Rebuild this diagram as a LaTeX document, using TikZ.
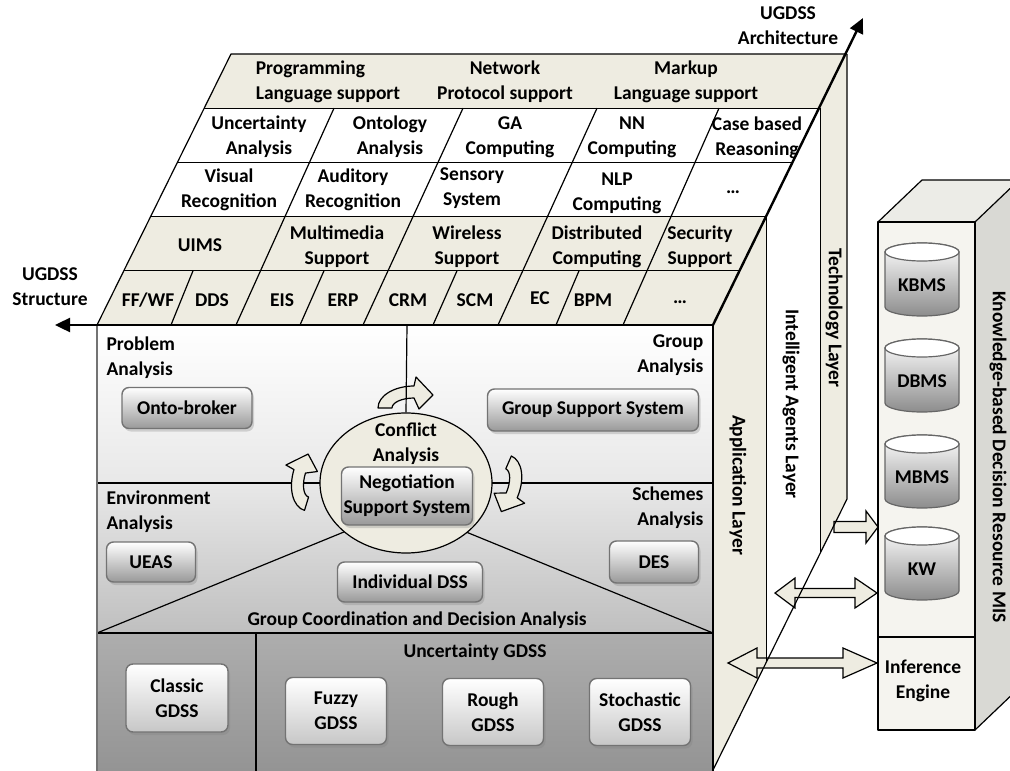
\documentclass[tikz,border=0pt]{standalone}
\usepackage{fontspec}
\setmainfont{Carlito}
\usetikzlibrary{shapes.geometric, arrows.meta, shadows}
\definecolor{tan}{HTML}{EEECE1}
\definecolor{kbfront}{HTML}{F5F4EF}
\definecolor{kbtop}{HTML}{ECECE7}
\definecolor{kbside}{HTML}{D9D9D4}
\newcommand{\labelfont}{\fontsize{19.5}{25}\selectfont\bfseries}
\tikzstyle{cell} = [inner sep=0, align=center, font=\labelfont]
\tikzstyle{tag} = [inner sep=0, font=\labelfont]
\tikzstyle{sysbox} = [rectangle, rounded corners=7pt, inner sep=0, align=center, font=\labelfont, draw=black!55, line width=1.4pt, top color=white, bottom color=black!40, drop shadow={shadow xshift=2pt, shadow yshift=-3pt, opacity=0.3}]
\tikzstyle{gdss} = [sysbox, bottom color=black!22, minimum width=101pt, minimum height=67pt]
\tikzstyle{axisarrow} = [line width=2.4pt, -{Triangle[length=15pt, width=14pt]}]
\tikzstyle{layertext} = [inner sep=0, font=\labelfont, rotate=-90]
\tikzstyle{blockarrow} = [fill=tan, line width=1.2pt, line join=miter]
\tikzstyle{drum} = [draw=black!60, line width=1.2pt, top color=white, bottom color=black!45]
% curved block arrow round the conflict ellipse
\newcommand{\turnarrow}[3]{%
  \begin{scope}[shift={(#1,#2)}, rotate=#3]
    \draw[fill=tan, line width=1.2pt]
      (-36,0) arc[start angle=180, end angle=270, x radius=36, y radius=22]
      -- (2,-31) -- (19,-13) -- (5,1) -- (0,-10)
      arc[start angle=270, end angle=180, x radius=22, y radius=10] -- cycle;
  \end{scope}}
% database drum
\newcommand{\drumstore}[4]{%
  \shade[drum] ({#2-37},#3) -- ({#2-37},{#3+55})
    arc[start angle=180, end angle=0, x radius=37, y radius=9] -- ({#2+37},#3)
    arc[start angle=0, end angle=-180, x radius=37, y radius=9] -- cycle;
  \draw[draw=black!60, fill=white] (#2,#3) ellipse [x radius=37, y radius=9];
  \node (#1) [cell] at (#2,{#3+33}) {#4};}

\begin{document}
\begin{tikzpicture}[x=1pt, y=-1pt, line width=1.2pt, line join=round]
\useasboundingbox (0,0) rectangle (1010,771);
\clip (0,0) rectangle (1010,771);

% front face
\shade[top color=white, bottom color=black!9] (97,325) rectangle (713,483);
\shade[top color=black!9, bottom color=black!25] (97,483) rectangle (713,633);
\shade[top color=black!32, bottom color=black!42] (97,633) rectangle (713,771);
\draw (97,483) -- (713,483);
\draw (97,633) -- (405,507) -- (713,633);
\draw (97,633) -- (713,633);
\draw (256,633) -- (256,771);
\draw[black!55] (97,325) -- (97,771);
\node (conflict) [ellipse, draw, fill=tan, minimum width=172pt, minimum height=140pt] at (406,483) {};
\turnarrow{414}{408}{0}
\turnarrow{315}{476}{73}
\turnarrow{497}{489}{-113.5}
\draw (407,325) -- (conflict.north);

\node (probtag) [tag, anchor=west, align=left] at (106,358) {Problem\\Analysis};
\node (envtag) [tag, anchor=west, align=left] at (106,512) {Environment\\Analysis};
\node (grouptag) [tag, anchor=east, align=right] at (704,355) {Group\\Analysis};
\node (schemetag) [tag, anchor=east, align=right] at (704,508) {Schemes\\Analysis};
\node (conftag) [cell] at (406,444) {Conflict\\Analysis};
\node (coordtag) [cell] at (417,620) {Group Coordination and Decision Analysis};
\node (unctag) [cell] at (475,652) {Uncertainty GDSS};

\node (onto) [sysbox, minimum width=130pt, minimum height=41pt] at (187,408) {Onto-broker};
\node (ueas) [sysbox, minimum width=89pt, minimum height=40pt] at (151,562) {UEAS};
\node (nss) [sysbox, minimum width=131pt, minimum height=58pt] at (407,496) {Negotiation\\Support System};
\node (idss) [sysbox, minimum width=145pt, minimum height=40pt] at (410,582) {Individual DSS};
\node (gss) [sysbox, minimum width=211pt, minimum height=42pt] at (593,410) {Group Support System};
\node (des) [sysbox, minimum width=89pt, minimum height=42pt] at (654,562) {DES};
\node (classic) [gdss, minimum width=102pt, minimum height=68pt] at (177,698) {Classic\\GDSS};
\node (fuzzy) [gdss] at (336,711) {Fuzzy\\GDSS};
\node (rough) [gdss] at (493,712) {Rough\\GDSS};
\node (stoch) [gdss] at (640,712) {Stochastic\\GDSS};

% top face
\fill[tan] (231,54) -- (847,54) -- (820.2,108.2) -- (204.2,108.2) -- cycle;
\fill[white] (204.2,108.2) -- (820.2,108.2) -- (766.6,216.6) -- (150.6,216.6) -- cycle;
\fill[tan] (150.6,216.6) -- (766.6,216.6) -- (713,325) -- (97,325) -- cycle;
\draw (97,325) -- (231,54) -- (847,54);
\foreach \k in {1,...,4}
  \draw ({97+26.8*\k},{325-54.2*\k}) -- ({713+26.8*\k},{325-54.2*\k});
\foreach \a/\b in {334/236, 463/363, 597/498, 719/623}
  \draw (\a,108.2) -- (\b,325);
\foreach \a/\b in {193/171, 324/300, 457/433, 579/556}
  \draw (\a,270.8) -- (\b,325);

\node (prog) [cell, align=left] at (328,82) {Programming\\Language support};
\node (netw) [cell] at (505,82) {Network\\Protocol support};
\node (mark) [cell] at (686,82) {Markup\\Language support};
\node (unc) [cell] at (259,137) {Uncertainty\\Analysis};
\node (onto2) [cell] at (390,137) {Ontology\\Analysis};
\node (ga) [cell] at (510,137) {GA\\Computing};
\node (nn) [cell] at (632,137) {NN\\Computing};
\node (cbr) [cell] at (757,138) {Case based\\Reasoning};
\node (vis) [cell] at (229,190) {Visual\\Recognition};
\node (aud) [cell] at (353,190) {Auditory\\Recognition};
\node (sens) [cell] at (472,188) {Sensory\\System};
\node (nlp) [cell] at (617,193) {NLP\\Computing};
\node (more1) [cell] at (733,192) {\dots};
\node (uims) [cell] at (200,245) {UIMS};
\node (mm) [cell] at (337,247) {Multimedia\\Support};
\node (wls) [cell] at (467,247) {Wireless\\Support};
\node (dist) [cell] at (597,247) {Distributed\\Computing};
\node (sec) [cell] at (700,247) {Security\\Support};
\node (ffwf) [cell] at (148,300) {FF/WF};
\node (dds) [cell] at (212,300) {DDS};
\node (eis) [cell] at (282,300) {EIS};
\node (erp) [cell] at (343,300) {ERP};
\node (crm) [cell] at (408,300) {CRM};
\node (scm) [cell] at (475,300) {SCM};
\node (ec) [cell] at (540,298) {EC};
\node (bpm) [cell] at (593,300) {BPM};
\node (more2) [cell] at (680,302) {\dots};

% side face: layers
\fill[tan] (713,325) -- (766.6,216.6) -- (766.6,661.6) -- (713,770) -- cycle;
\fill[white] (766.6,216.6) -- (820.2,108.2) -- (820.2,553.2) -- (766.6,661.6) -- cycle;
\fill[tan] (820.2,108.2) -- (847,54) -- (847,499) -- (820.2,553.2) -- cycle;
\draw[blockarrow] (834,521.5) -- (866,521.5) -- (866,511) -- (878,527) -- (866,543) -- (866,532.5) -- (834,532.5) -- cycle;
\draw[blockarrow] (775,593) -- (795,578) -- (795,588.5) -- (855,588.5) -- (855,578) -- (877,593) -- (855,608) -- (855,597.5) -- (795,597.5) -- (795,608) -- cycle;
\draw[blockarrow] (728,663) -- (757,648) -- (757,658) -- (843,658) -- (843,648) -- (877,663) -- (843,678) -- (843,668) -- (757,668) -- (757,678) -- cycle;
\draw (713,325) -- (713,771);
\draw (766.6,216.6) -- (766.6,661.6);
\draw (820.2,108.2) -- (820.2,553.2);
\draw (847,54) -- (847,499) -- (713,770);
\node (applayer) [layertext] at (738,485) {Application Layer};
\node (agentlayer) [layertext] at (791,404) {Intelligent Agents Layer};
\node (techlayer) [layertext] at (834,318) {Technology Layer};

% axes
\draw[axisarrow] (713,325) -- (55,325);
\draw[axisarrow] (713,325) -- (863,18);
\node (structag) [cell] at (50,287) {UGDSS\\Structure};
\node (archtag) [cell] at (788,26) {UGDSS\\Architecture};

% knowledge-based resource box
\fill[kbside] (975,222) -- (1019,180) -- (1019,688) -- (975,730) -- cycle;
\filldraw[fill=kbtop] (878,222) -- (922,180) -- (1019,180) -- (975,222) -- cycle;
\draw (975,730) -- (1019,688);
\draw[fill=kbfront] (878,222) rectangle (975,730);
\draw (878,637) -- (975,637);
\drumstore{kbms}{922}{252}{KBMS}
\drumstore{dbms}{922}{348}{DBMS}
\drumstore{mbms}{922}{444}{MBMS}
\drumstore{kw}{922}{536}{KW}
\node (infer) [cell] at (923,681) {Inference\\Engine};
\node (kbmis) [layertext] at (998,457) {Knowledge-based Decision Resource MIS};
\end{tikzpicture}
\end{document}
